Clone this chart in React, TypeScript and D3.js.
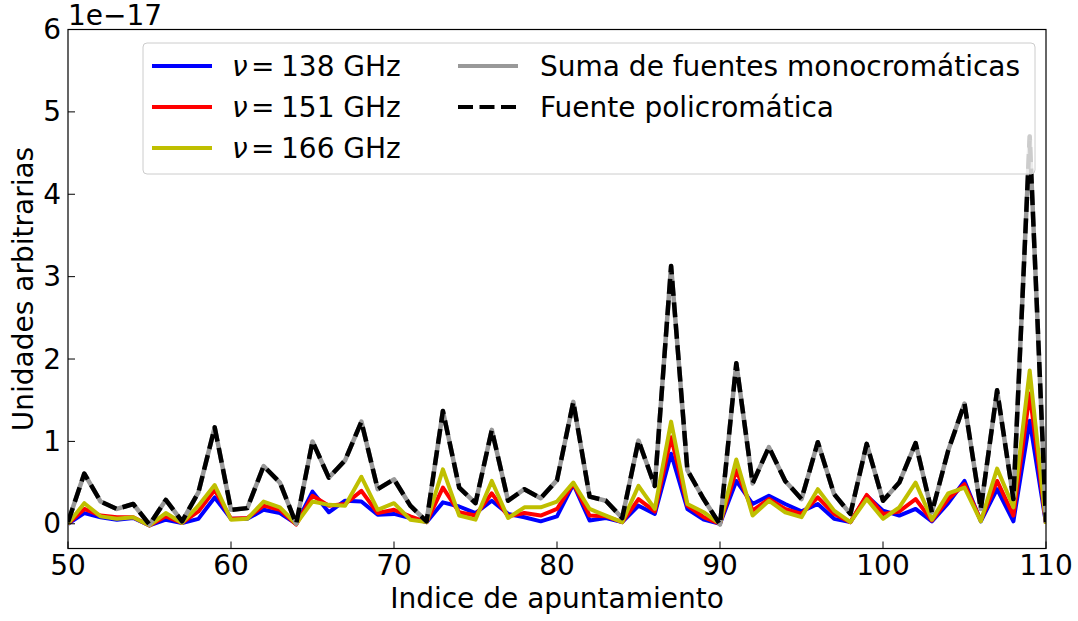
import React from "react";
import * as d3 from "d3";

const indices: number[] = d3.range(50, 111);

const nu138: number[] = [
  0.0, 0.13, 0.08, 0.05, 0.07, -0.02, 0.05, 0.01, 0.06, 0.32,
  0.06, 0.06, 0.17, 0.13, 0.0, 0.39, 0.14, 0.28, 0.27, 0.11,
  0.12, 0.07, 0.02, 0.26, 0.21, 0.13, 0.28, 0.12, 0.08, 0.03,
  0.09, 0.48, 0.04, 0.07, 0.02, 0.22, 0.12, 0.85, 0.18, 0.05,
  0.0, 0.52, 0.24, 0.34, 0.24, 0.15, 0.24, 0.06, 0.02, 0.34,
  0.16, 0.1, 0.18, 0.03, 0.25, 0.52, 0.03, 0.42, 0.03, 1.25,
  0.0,
];

const nu151: number[] = [
  0.0, 0.18, 0.1, 0.08, 0.08, -0.02, 0.09, 0.01, 0.15, 0.41,
  0.06, 0.07, 0.22, 0.17, -0.01, 0.34, 0.22, 0.24, 0.4, 0.13,
  0.17, 0.09, 0.02, 0.44, 0.14, 0.1, 0.37, 0.09, 0.13, 0.1,
  0.18, 0.49, 0.1, 0.09, 0.02, 0.3, 0.15, 1.05, 0.22, 0.08,
  0.0, 0.65, 0.16, 0.3, 0.18, 0.12, 0.32, 0.12, 0.02, 0.35,
  0.12, 0.15, 0.3, 0.04, 0.3, 0.48, 0.04, 0.52, 0.1, 1.58,
  0.0,
];

const nu166: number[] = [
  0.0, 0.25, 0.09, 0.06, 0.08, -0.02, 0.13, 0.01, 0.22, 0.47,
  0.05, 0.06, 0.27, 0.2, 0.0, 0.27, 0.23, 0.22, 0.57, 0.17,
  0.25, 0.05, 0.02, 0.66, 0.1, 0.05, 0.52, 0.07, 0.2, 0.2,
  0.27, 0.5, 0.18, 0.1, 0.02, 0.46, 0.18, 1.24, 0.24, 0.14,
  0.0, 0.78, 0.1, 0.28, 0.14, 0.08, 0.42, 0.16, 0.02, 0.3,
  0.06, 0.2, 0.5, 0.05, 0.37, 0.44, 0.03, 0.67, 0.2, 1.86,
  0.0,
];

const sumaMono: number[] = [
  0.02, 0.61, 0.27, 0.18, 0.24, -0.01, 0.29, 0.03, 0.38, 1.17,
  0.17, 0.19, 0.7, 0.5, 0.0, 1.0, 0.56, 0.77, 1.24, 0.42,
  0.54, 0.22, 0.03, 1.37, 0.44, 0.25, 1.14, 0.28, 0.42, 0.31,
  0.53, 1.48, 0.33, 0.28, 0.07, 1.01, 0.46, 3.13, 0.65, 0.3,
  -0.01, 1.95, 0.49, 0.93, 0.52, 0.3, 0.99, 0.36, 0.12, 0.97,
  0.28, 0.5, 0.98, 0.14, 0.89, 1.46, 0.18, 1.62, 0.3, 4.7,
  0.02,
];

const policromatica: number[] = [
  0.02, 0.61, 0.27, 0.18, 0.24, -0.01, 0.29, 0.03, 0.38, 1.17,
  0.17, 0.19, 0.7, 0.5, 0.0, 1.0, 0.56, 0.77, 1.24, 0.42,
  0.54, 0.22, 0.03, 1.37, 0.44, 0.25, 1.14, 0.28, 0.42, 0.31,
  0.53, 1.48, 0.33, 0.28, 0.07, 1.01, 0.46, 3.13, 0.65, 0.3,
  -0.01, 1.95, 0.49, 0.93, 0.52, 0.3, 0.99, 0.36, 0.12, 0.97,
  0.28, 0.5, 0.98, 0.14, 0.89, 1.46, 0.18, 1.62, 0.3, 4.7,
  0.02,
];

const xTicks: number[] = [50, 60, 70, 80, 90, 100, 110];
const yTicks: number[] = [0, 1, 2, 3, 4, 5, 6];

const W = 1078;
const H = 621;
const left = 68;
const right = 1046;
const top = 29.5;
const bottom = 548.5;
const FONT = "DejaVu Sans";
const FS = 28;

export default function App() {
  const x = d3.scaleLinear().domain([50, 110]).range([left, right]);
  const y = d3.scaleLinear().domain([-0.3, 6]).range([bottom, top]);

  const line = (vals: number[]) =>
    d3
      .line<number>()
      .x((_, i) => x(indices[i]))
      .y((d) => y(d))(vals) as string;

  const colored = [
    { vals: nu138, color: "#0000ff" },
    { vals: nu151, color: "#ff0000" },
    { vals: nu166, color: "#bfbf00" },
  ];

  const legendLeft = [
    { label: "138", color: "#0000ff", yy: 66 },
    { label: "151", color: "#ff0000", yy: 107 },
    { label: "166", color: "#bfbf00", yy: 148 },
  ];

  return (
    <svg
      width={W}
      height={H}
      style={{ position: "absolute", left: 0, top: 0, background: "#fff" }}
      fontFamily={FONT}
    >
      <rect x={0} y={0} width={W} height={H} fill="#fff" />
      <defs>
        <clipPath id="plotclip">
          <rect x={left} y={top} width={right - left} height={bottom - top} />
        </clipPath>
      </defs>
      <g clipPath="url(#plotclip)">
        {colored.map((s, i) => (
          <path
            key={i}
            d={line(s.vals)}
            fill="none"
            stroke={s.color}
            strokeWidth={4}
            strokeLinejoin="round"
          />
        ))}
        <path
          d={line(sumaMono)}
          fill="none"
          stroke="#999999"
          strokeWidth={4.5}
          strokeLinejoin="round"
        />
        <path
          d={line(policromatica)}
          fill="none"
          stroke="#000"
          strokeWidth={4.5}
          strokeDasharray="15,6.5"
          strokeLinejoin="round"
        />
      </g>

      {/* legend */}
      <rect
        x={143}
        y={43}
        width={892}
        height={131}
        rx={4}
        fill="#fff"
        fillOpacity={0.8}
        stroke="#cccccc"
        strokeWidth={1}
      />
      {legendLeft.map((e) => (
        <g key={e.label}>
          <line x1={152} x2={212} y1={e.yy} y2={e.yy} stroke={e.color} strokeWidth={4} />
          <text y={e.yy} dominantBaseline="central" fontSize={FS} fill="#000">
            <tspan x={232} fontStyle="italic">ν</tspan>
            <tspan x={251}>=</tspan>
            <tspan x={281}>{e.label} GHz</tspan>
          </text>
        </g>
      ))}
      <line x1={458} x2={518} y1={66} y2={66} stroke="#999999" strokeWidth={4} />
      <text x={540} y={66} dominantBaseline="central" fontSize={FS} fill="#000">
        Suma de fuentes monocromáticas
      </text>
      <line
        x1={458}
        x2={518}
        y1={107}
        y2={107}
        stroke="#000"
        strokeWidth={4}
        strokeDasharray="15,6.5"
      />
      <text x={540} y={107} dominantBaseline="central" fontSize={FS} fill="#000">
        Fuente policromática
      </text>

      {/* axes frame */}
      <rect
        x={left}
        y={top}
        width={right - left}
        height={bottom - top}
        fill="none"
        stroke="#000"
        strokeWidth={1.2}
      />
      {xTicks.map((t) => (
        <g key={"x" + t}>
          <line x1={x(t)} x2={x(t)} y1={bottom} y2={bottom - 7} stroke="#000" strokeWidth={1} />
          <text x={x(t)} y={575} textAnchor="middle" fontSize={FS} fill="#000">
            {t}
          </text>
        </g>
      ))}
      {yTicks.map((t) => (
        <g key={"y" + t}>
          <line x1={left} x2={left + 7} y1={y(t)} y2={y(t)} stroke="#000" strokeWidth={1} />
          <text
            x={61}
            y={y(t)}
            textAnchor="end"
            dominantBaseline="central"
            fontSize={FS}
            fill="#000"
          >
            {t}
          </text>
        </g>
      ))}
      <text x={68} y={25} fontSize={FS} fill="#000">
        1e−17
      </text>
      <text x={(left + right) / 2} y={608} textAnchor="middle" fontSize={FS} fill="#000">
        Indice de apuntamiento
      </text>
      <text
        transform={`translate(33, ${(top + bottom) / 2}) rotate(-90)`}
        textAnchor="middle"
        fontSize={FS}
        fill="#000"
      >
        Unidades arbitrarias
      </text>
    </svg>
  );
}
